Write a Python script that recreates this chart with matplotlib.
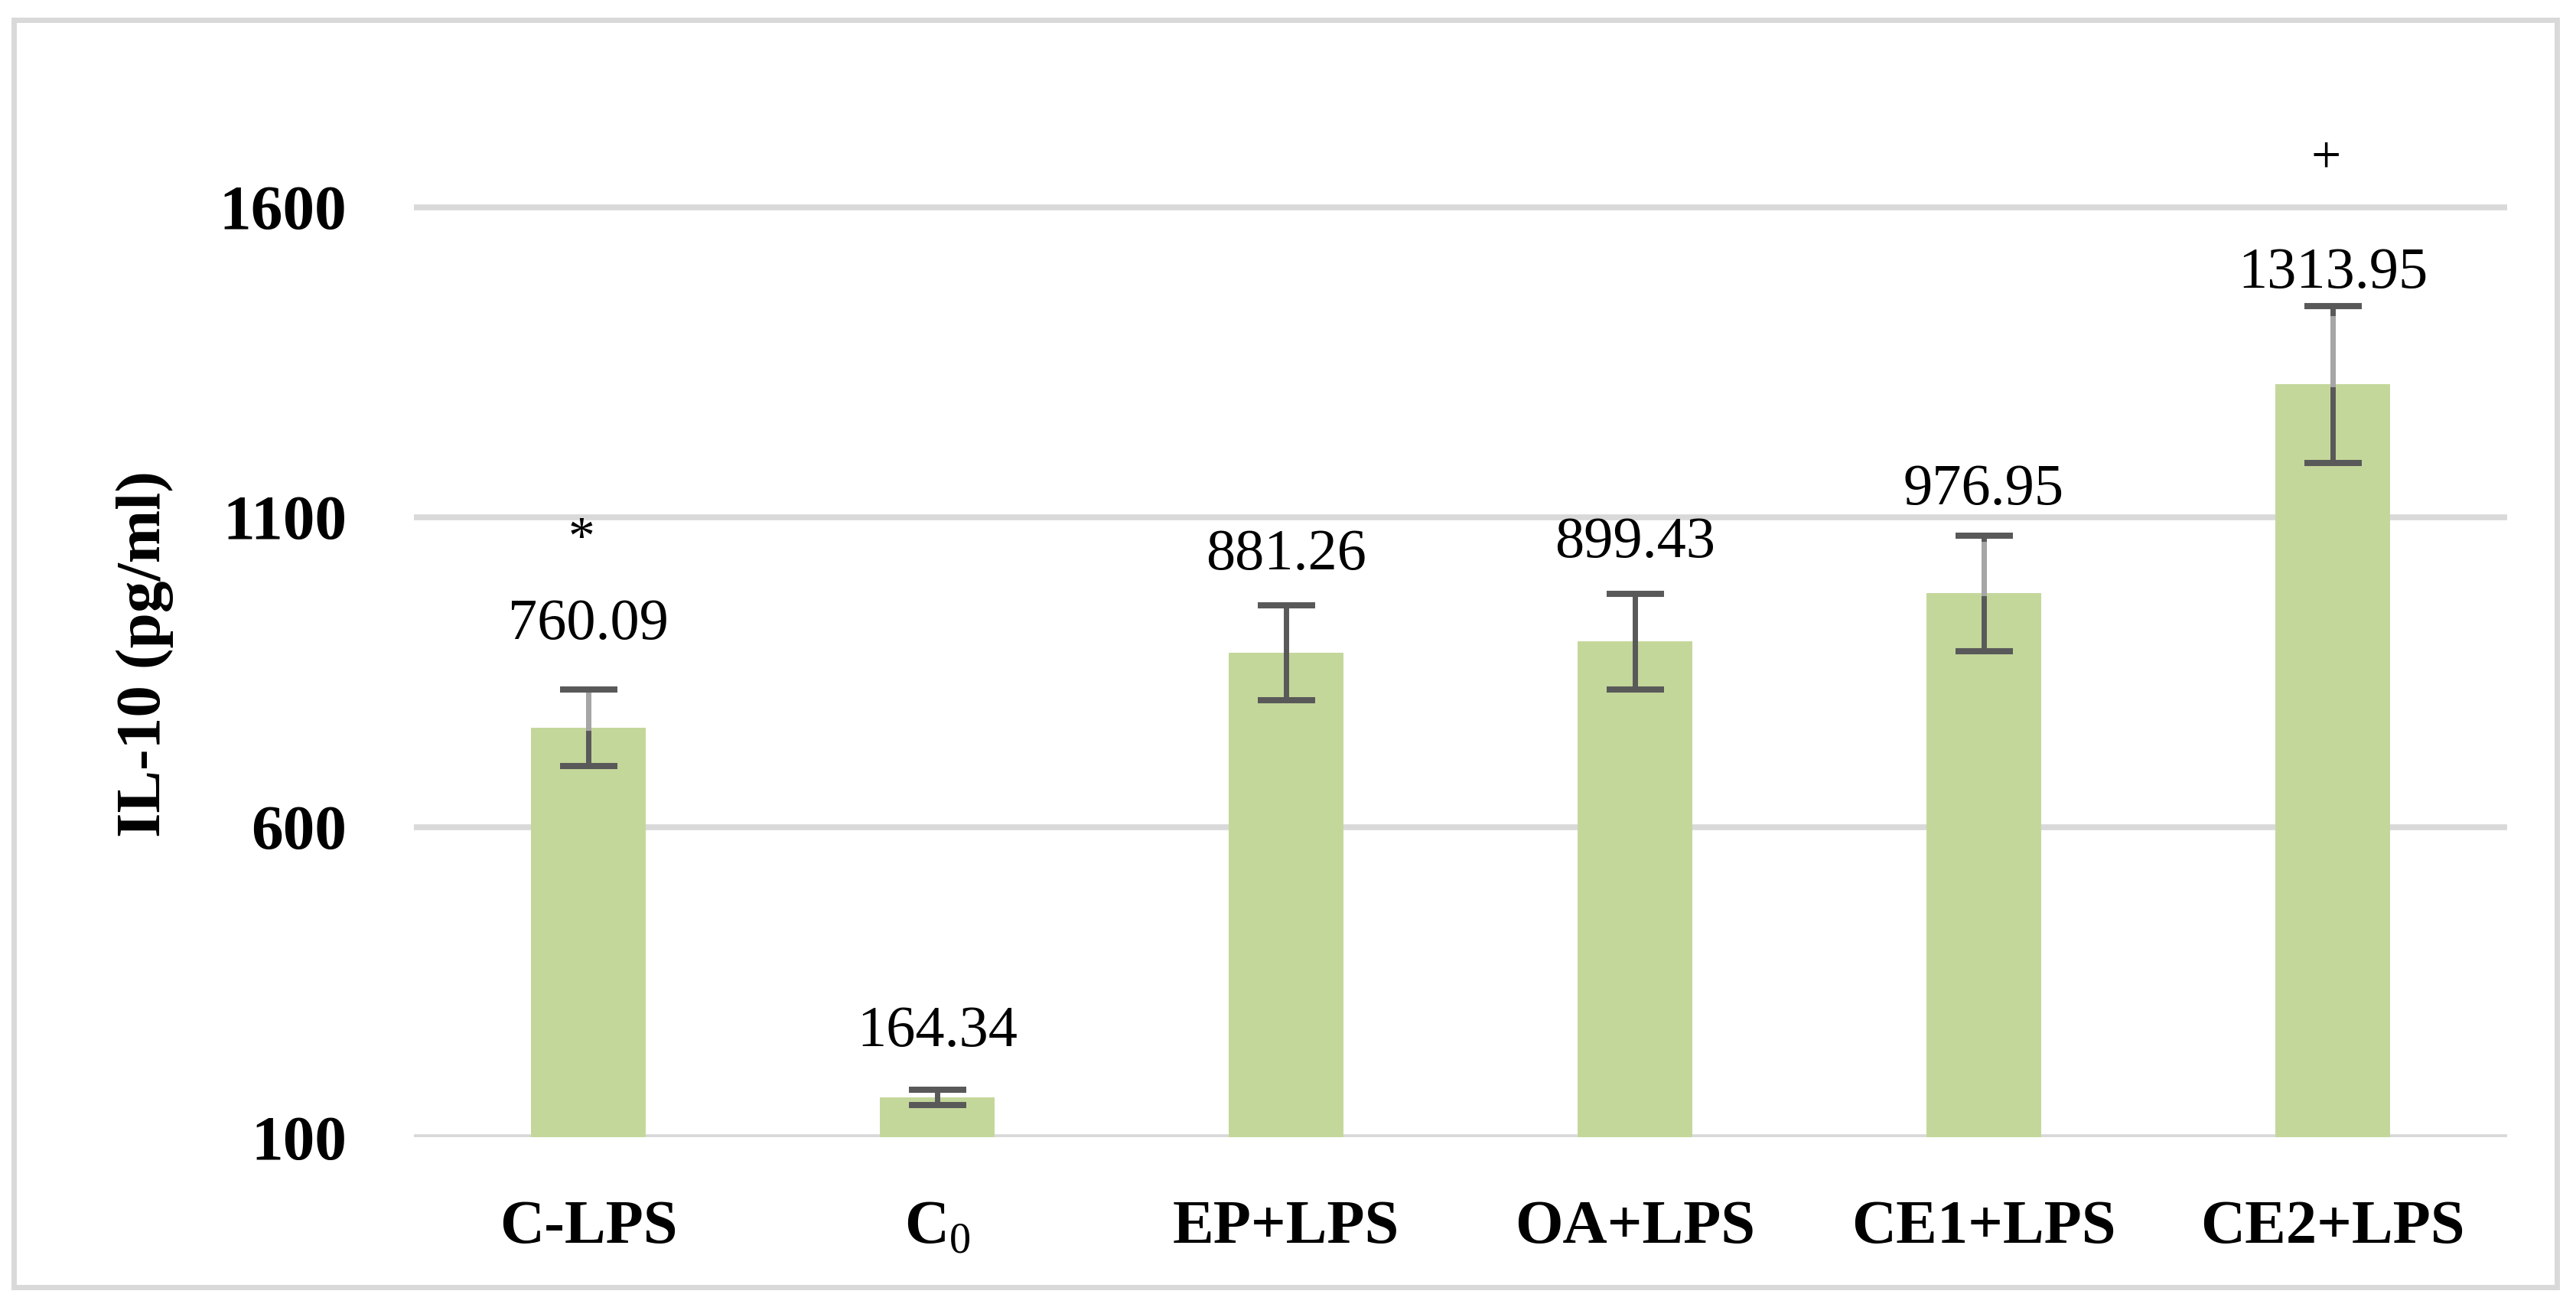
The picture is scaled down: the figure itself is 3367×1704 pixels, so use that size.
import matplotlib
matplotlib.use("Agg")
import matplotlib.pyplot as plt
from matplotlib.patches import Rectangle

groups = ["C-LPS", r"$\mathbf{C}_{0}$", "EP+LPS", "OA+LPS", "CE1+LPS", "CE2+LPS"]
il10 = [760.09, 164.34, 881.26, 899.43, 976.95, 1313.95]
sd = [62, 12, 76, 77, 93, 126]
marks = ["*", "", "", "", "", "+"]
mark_y = [1062, None, None, None, None, 1676]

plt.rcParams["font.family"] = ["Liberation Serif", "DejaVu Serif"]
plt.rcParams["mathtext.fontset"] = "custom"
plt.rcParams["mathtext.rm"] = "Liberation Serif"
plt.rcParams["mathtext.bf"] = "Liberation Serif:bold"

fig = plt.figure(figsize=(33.67, 17.04), dpi=100)
ax = fig.add_axes([541 / 3367, 218 / 1704, 2736 / 3367, 1426 / 1704])

x = range(len(groups))
ax.bar(x, il10, width=0.33, color="#C4D79B", bottom=0, zorder=2)
ax.errorbar(x, il10, yerr=sd, fmt="none", ecolor="#595959", elinewidth=5,
            capsize=27, capthick=5.8, zorder=3)
# lighter stretch of the upper whisker, as in the original export
for i in [0, 4, 5]:
    ax.plot([i, i], [il10[i], il10[i] + sd[i] * 0.85], color="#A6A6A6", lw=5, zorder=4)

# value labels sit above the error bars
label_gap = [84, 76, 66, 66, 60, 43]
for i, v in enumerate(il10):
    ax.annotate(f"{v:.2f}", (i, v + sd[i]), xytext=(0, label_gap[i]),
                textcoords="offset pixels", ha="center", va="center", fontsize=55)
    if marks[i]:
        ax.text(i - 0.02, mark_y[i], marks[i], ha="center", va="center", fontsize=50)

ax.set_ylim(100, 1860)
ax.set_xlim(-0.5, 5.5)
ax.set_yticks([100, 600, 1100, 1600])
ax.set_xticks(list(x))
ax.set_xticklabels(groups, fontsize=58, fontweight="bold")
ax.tick_params(axis="y", labelsize=60, length=0, pad=63)
ax.tick_params(axis="x", length=0, pad=59)
for lab in ax.get_yticklabels():
    lab.set_fontweight("bold")
ax.yaxis.grid(True, color="#D9D9D9", lw=5.5, zorder=0)
ax.set_axisbelow(True)
for s in ax.spines.values():
    s.set_visible(False)

ax.set_ylabel("IL-10 (pg/ml)", fontsize=60, fontweight="bold")
ax.yaxis.set_label_coords(-0.1148, 0.4425)

fig.patches.append(Rectangle((17.5 / 3367, 22 / 1704), 3324 / 3367, 1656 / 1704,
                             transform=fig.transFigure, fill=False,
                             ec="#D9D9D9", lw=5))

fig.savefig("out.png", dpi=100, facecolor="white")
